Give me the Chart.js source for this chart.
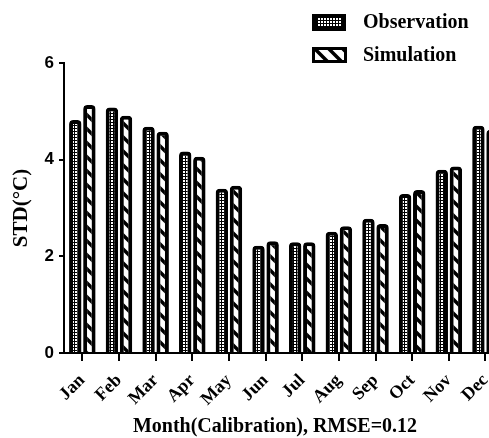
<!DOCTYPE html>
<html>
<head>
<meta charset="utf-8">
<script src="https://cdn.jsdelivr.net/npm/chart.js@4/dist/chart.umd.min.js"></script>
<style>
  html, body { margin: 0; padding: 0; background: #fff; overflow: hidden; width: 489px; height: 438px; }
  #wrap { width: 510px; height: 438px; }
</style>
</head>
<body>
<div id="wrap"><canvas id="c" width="510" height="438"></canvas></div>
<script>
// Monthly standard deviation of temperature, calibration period
const months = ['Jan', 'Feb', 'Mar', 'Apr', 'May', 'Jun', 'Jul', 'Aug', 'Sep', 'Oct', 'Nov', 'Dec'];
const observation = [4.82, 5.08, 4.68, 4.17, 3.40, 2.22, 2.29, 2.51, 2.78, 3.29, 3.79, 4.70];
const simulation  = [5.13, 4.91, 4.58, 4.06, 3.46, 2.31, 2.29, 2.62, 2.67, 3.37, 3.86, 4.62];
const seriesNames = ['Observation', 'Simulation'];
const yTickValues = [0, 2, 4, 6];
const xTitle = 'Month(Calibration), RMSE=0.12';
const yTitle = 'STD(\u00B0C)';

const SERIF = '"Liberation Serif", "Times New Roman", serif';
const SANS = '"Liberation Sans", Arial, sans-serif';

// Fill patterns: dotted checker for observed, back-slash hatching for simulated
function makeChecker() {
  const c = document.createElement('canvas');
  c.width = 3; c.height = 3;
  const g = c.getContext('2d');
  g.fillStyle = '#000'; g.fillRect(0, 0, 3, 3);
  g.fillStyle = '#fff'; g.fillRect(0, 0, 2, 2);
  return g.createPattern(c, 'repeat');
}
function makeHatch() {
  const s = 14;
  const c = document.createElement('canvas');
  c.width = s; c.height = s;
  const g = c.getContext('2d');
  g.fillStyle = '#fff'; g.fillRect(0, 0, s, s);
  g.strokeStyle = '#000'; g.lineWidth = 3.5; g.lineCap = 'square';
  g.beginPath();
  g.moveTo(-2, -2); g.lineTo(s + 2, s + 2);
  g.moveTo(-2, s - 2); g.lineTo(2, s + 2);
  g.moveTo(s - 2, -2); g.lineTo(s + 2, 2);
  g.stroke();
  return g.createPattern(c, 'repeat');
}
const checker = makeChecker();
const hatch = makeHatch();

// Legend and bottom axis caption drawn on the canvas
const annotations = {
  id: 'annotations',
  afterDraw(chart) {
    const ctx = chart.ctx;
    ctx.save();
    // legend swatches
    ctx.fillStyle = '#000';
    ctx.fillRect(312, 14, 34, 17);
    ctx.fillStyle = checker;
    ctx.fillRect(317, 18, 25, 8);
    ctx.fillStyle = '#000';
    ctx.fillRect(312, 47, 35, 16);
    ctx.fillStyle = hatch;
    ctx.fillRect(315, 50, 29, 10);
    // legend text
    ctx.fillStyle = '#000';
    ctx.font = 'bold 20px ' + SERIF;
    ctx.textAlign = 'left';
    ctx.textBaseline = 'middle';
    ctx.fillText(seriesNames[0], 363, 23);
    ctx.fillText(seriesNames[1], 363, 56);
    // x axis caption
    ctx.textAlign = 'center';
    ctx.fillText(xTitle, 275, 427);
    ctx.restore();
  }
};

new Chart(document.getElementById('c'), {
  type: 'bar',
  data: {
    labels: months,
    datasets: [
      { label: seriesNames[0], data: observation, backgroundColor: checker,
        borderColor: '#000', borderWidth: 4, borderRadius: 4 },
      { label: seriesNames[1], data: simulation, backgroundColor: hatch,
        borderColor: '#000', borderWidth: 4, borderRadius: 4 }
    ]
  },
  options: {
    responsive: false,
    animation: false,
    devicePixelRatio: 1,
    categoryPercentage: 0.77,
    barPercentage: 0.88,
    layout: { padding: { top: 63, right: 6, bottom: 0, left: 0 } },
    plugins: { legend: { display: false }, tooltip: { enabled: false } },
    scales: {
      x: {
        offset: true,
        afterFit(s) { s.height = 85; },
        grid: { display: true, drawOnChartArea: false, offset: false, tickLength: 8, color: '#000', lineWidth: 2 },
        border: { display: true, color: '#000', width: 2 },
        ticks: { color: '#000', font: { family: SERIF, size: 18, weight: 'bold' },
                 minRotation: 45, maxRotation: 45, autoSkip: false, padding: 9 }
      },
      y: {
        min: 0, max: 6,
        afterFit(s) { s.width = 64; },
        afterBuildTicks(s) { s.ticks = yTickValues.map(v => ({ value: v })); },
        grid: { display: true, drawOnChartArea: false, tickLength: 5, color: '#000', lineWidth: 2 },
        border: { display: true, color: '#000', width: 2 },
        ticks: { color: '#000', font: { family: SANS, size: 17, weight: 'bold' }, padding: 5 },
        title: { display: true, text: yTitle, color: '#000',
                 font: { family: SERIF, size: 21, weight: 'bold' }, padding: { top: 9, bottom: 0 } }
      }
    }
  },
  plugins: [annotations]
});
</script>
</body>
</html>
